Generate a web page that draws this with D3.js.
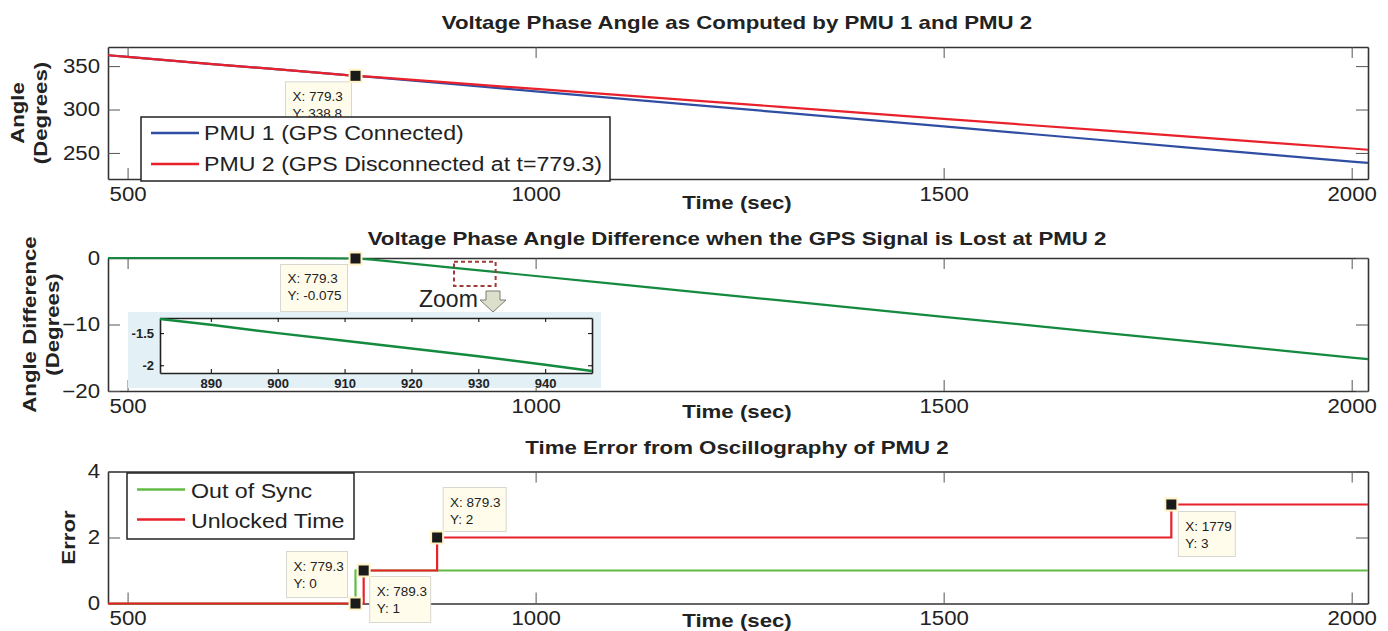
<!DOCTYPE html>
<html>
<head>
<meta charset="utf-8">
<script src="https://cdn.jsdelivr.net/npm/d3@7"></script>
<style>
  body { margin: 0; background: #fff; }
  svg { font-family: Arial, "Liberation Sans", sans-serif; }
</style>
</head>
<body>
<svg width="1388" height="631"></svg>
<script>
// ---- data ----
const tAngle = [476, 500, 600, 700, 779.3, 800, 900, 1000, 1100, 1200, 1300, 1400, 1500, 1600, 1700, 1800, 1900, 2000, 2020];
const pmu1Angle = [362.5, 360.6, 352.6, 345.1, 338.8, 337.2, 329.1, 321.0, 312.9, 304.8, 296.7, 288.6, 280.5, 272.4, 264.3, 256.2, 248.1, 240.1, 238.5];
const pmu2Angle = [362.5, 360.6, 352.6, 345.1, 338.8, 337.5, 330.6, 323.7, 316.8, 310.0, 303.1, 296.2, 289.3, 282.5, 275.6, 268.7, 261.8, 255.1, 253.7];

const tDiff = [476, 600, 700, 779.3, 800, 900, 1000, 1100, 1200, 1300, 1400, 1500, 1600, 1700, 1800, 1900, 2000, 2020];
const angleDiff = [0, 0, 0, -0.075, -0.25, -1.48, -2.71, -3.93, -5.16, -6.38, -7.61, -8.84, -10.06, -11.29, -12.51, -13.74, -14.97, -15.2];

const tInset = [882.4, 890, 900, 910, 920, 930, 940, 947];
const insetDiff = [-1.28, -1.37, -1.50, -1.62, -1.74, -1.86, -1.99, -2.09];

const tSync = [476, 779.3, 2020];
const outOfSync = [0, 1, 1];
const tUnlock = [476, 789.3, 879.3, 1779, 2020];
const unlockedTime = [0, 1, 2, 3, 3];

const xTicks = [500, 1000, 1500, 2000];
const angleTicks = [250, 300, 350];
const diffTicks = [-20, -10, 0];
const errorTicks = [0, 2, 4];
const insetXTicks = [890, 900, 910, 920, 930, 940];
const insetYTicks = [-2, -1.5];

const titles = [
  "Voltage Phase Angle as Computed by PMU 1 and PMU 2",
  "Voltage Phase Angle Difference when the GPS Signal is Lost at PMU 2",
  "Time Error from Oscillography of PMU 2"
];

// ---- drawing ----
const svg = d3.select("svg");
const L = 108, R = 1368;
const x = d3.scaleLinear().domain([476, 2020]).range([L, R]);

const blue = "#2f4ea3", red = "#e8212a", dgreen = "#138a3e", lgreen = "#62bb45";
const FF = "Arial, 'Liberation Sans', sans-serif";

// the original figure is stretched sideways, so widen text a bit
function stretch(sel, k) {
  sel.each(function() {
    const w = this.getComputedTextLength();
    d3.select(this).attr("textLength", w * k).attr("lengthAdjust", "spacingAndGlyphs");
  });
}

function panel(top, bottom, y, yTicks, title, titleY, ylabLines, ylabX, xlabY) {
  const g = svg.append("g");
  g.append("text").attr("x", 737).attr("y", titleY).attr("text-anchor", "middle")
    .attr("font-weight", "bold").attr("font-size", 19).attr("fill", "#222").text(title)
    .call(stretch, 1.17);

  const ax = (sel) => sel.selectAll("path.domain").attr("stroke", "#333").attr("stroke-width", 1.6);
  const lab = (s) => s.selectAll("text").attr("font-size", 19.5).attr("fill", "#222").attr("font-family", FF).call(stretch, 1.14);
  g.append("g").attr("transform", `translate(0,${bottom})`)
    .call(d3.axisBottom(x).tickValues(xTicks).tickSizeInner(-11).tickSizeOuter(0).tickPadding(8).tickFormat(d3.format("d")))
    .call(ax).call(lab);
  g.append("g").attr("transform", `translate(0,${top})`)
    .call(d3.axisTop(x).tickValues(xTicks).tickSizeInner(-11).tickSizeOuter(0).tickFormat(""))
    .call(ax);
  g.append("g").attr("transform", `translate(${L},0)`)
    .call(d3.axisLeft(y).tickValues(yTicks).tickSizeInner(-12).tickSizeOuter(0).tickPadding(8).tickFormat(d3.format("d")))
    .call(ax).call(lab);
  g.append("g").attr("transform", `translate(${R},0)`)
    .call(d3.axisRight(y).tickValues(yTicks).tickSizeInner(-12).tickSizeOuter(0).tickFormat(""))
    .call(ax);
  g.selectAll(".tick line").attr("stroke", "#555");

  g.append("text").attr("x", 737).attr("y", xlabY).attr("text-anchor", "middle")
    .attr("font-weight", "bold").attr("font-size", 19).attr("fill", "#222").text("Time (sec)")
    .call(stretch, 1.17);

  const cy = (top + bottom) / 2;
  ylabLines.forEach((t, i) => {
    g.append("text").attr("transform", `translate(${ylabX[i]},${cy}) rotate(-90)`)
      .attr("text-anchor", "middle").attr("font-weight", "bold").attr("font-size", 18.5)
      .attr("fill", "#222").text(t).call(stretch, 1.2);
  });
  return g;
}

function drawLine(g, xs, ys, y, color, width, curve) {
  const pts = xs.map((t, i) => [t, ys[i]]);
  g.append("path").datum(pts)
    .attr("fill", "none").attr("stroke", color).attr("stroke-width", width)
    .attr("d", d3.line().x(d => x(d[0])).y(d => y(d[1])).curve(curve || d3.curveLinear));
}

function dataTip(g, px, py, lines, off) {
  const bx = px + off.dx, by = py + off.dy;
  g.append("rect").attr("x", bx).attr("y", by).attr("width", off.w).attr("height", off.h)
    .attr("fill", "#fffcec").attr("stroke", "#d8d8d0");
  lines.forEach((t, i) => {
    g.append("text").attr("x", bx + 7).attr("y", by + 19 + i * 17)
      .attr("font-size", 13.5).attr("fill", "#222").text(t);
  });
  g.append("rect").attr("x", px - 6).attr("y", py - 6).attr("width", 12).attr("height", 12)
    .attr("fill", "#1a1a1a").attr("stroke", "#fff3c4").attr("stroke-width", 2);
}

// panel 1
const y1 = d3.scaleLinear().domain([220, 372]).range([179, 47]);
const g1 = panel(47, 179, y1, angleTicks, titles[0], 29, ["Angle", "(Degrees)"], [24, 47], 209);
drawLine(g1, tAngle, pmu1Angle, y1, blue, 2.2);
drawLine(g1, tAngle, pmu2Angle, y1, red, 2.2);
dataTip(g1, x(779.3), y1(338.8), ["X: 779.3", "Y: 338.8"], {dx: -70, dy: 6, w: 66, h: 46});
const leg1 = g1.append("g");
leg1.append("rect").attr("x", 141).attr("y", 117).attr("width", 469).attr("height", 64)
  .attr("fill", "#fff").attr("stroke", "#222").attr("stroke-width", 1.5);
[["PMU 1 (GPS Connected)", blue, 133], ["PMU 2 (GPS Disconnected at t=779.3)", red, 164]].forEach(d => {
  leg1.append("line").attr("x1", 151).attr("x2", 199).attr("y1", d[2]).attr("y2", d[2])
    .attr("stroke", d[1]).attr("stroke-width", 2.5);
  leg1.append("text").attr("x", 204).attr("y", d[2] + 7).attr("font-size", 20).attr("fill", "#222").text(d[0])
    .call(stretch, 1.157);
});

// panel 2
const y2 = d3.scaleLinear().domain([-20, 0]).range([391, 258]);
const g2 = panel(258, 391, y2, diffTicks, titles[1], 245, ["Angle Difference", "(Degrees)"], [36, 59], 418);
drawLine(g2, tDiff, angleDiff, y2, dgreen, 2.2);
dataTip(g2, x(779.3), y2(-0.075), ["X: 779.3", "Y: -0.075"], {dx: -75, dy: 6, w: 67, h: 47});
g2.append("rect").attr("x", x(900)).attr("y", y2(-0.55)).attr("width", x(951) - x(900)).attr("height", y2(-4.2) - y2(-0.55))
  .attr("fill", "none").attr("stroke", "#a03a35").attr("stroke-width", 2).attr("stroke-dasharray", "4,3");
g2.append("text").attr("x", 419).attr("y", 307).attr("font-size", 23).attr("fill", "#222").text("Zoom");
g2.append("path").attr("d", "M486,291 L500,291 L500,300 L506,300 L493,312 L480,300 L486,300 Z")
  .attr("fill", "#dcdfcc").attr("stroke", "#7b7f70").attr("stroke-width", 1);

// inset
const ig = g2.append("g");
ig.append("rect").attr("x", 128).attr("y", 312).attr("width", 473).attr("height", 76).attr("fill", "#e3f0f6");
const xi = d3.scaleLinear().domain([882.4, 947]).range([160, 592]);
const yi = d3.scaleLinear().domain([-2.12, -1.265]).range([373, 318]);
ig.append("rect").attr("x", 160).attr("y", 318).attr("width", 432).attr("height", 55).attr("fill", "#fff");
const iax = (sel) => sel.selectAll("path.domain").attr("stroke", "#222").attr("stroke-width", 1.6);
const bf = s => s.selectAll("text").attr("font-size", 13).attr("font-weight", "bold").attr("fill", "#222").attr("font-family", FF);
ig.append("g").attr("transform", "translate(0,373)")
  .call(d3.axisBottom(xi).tickValues(insetXTicks).tickSizeInner(-4).tickSizeOuter(0).tickPadding(6)).call(iax).call(bf);
ig.append("g").attr("transform", "translate(0,318)")
  .call(d3.axisTop(xi).tickValues(insetXTicks).tickSizeInner(-4).tickSizeOuter(0).tickFormat("")).call(iax);
ig.append("g").attr("transform", "translate(160,0)")
  .call(d3.axisLeft(yi).tickValues(insetYTicks).tickSizeInner(-4).tickSizeOuter(0).tickPadding(6).tickFormat(d => String(d))).call(iax).call(bf);
ig.append("g").attr("transform", "translate(592,0)")
  .call(d3.axisRight(yi).tickValues(insetYTicks).tickSizeInner(-4).tickSizeOuter(0).tickFormat("")).call(iax);
ig.append("path").datum(tInset.map((t, i) => [t, insetDiff[i]]))
  .attr("fill", "none").attr("stroke", dgreen).attr("stroke-width", 2.5)
  .attr("d", d3.line().x(d => xi(d[0])).y(d => yi(d[1])));

// panel 3
const y3 = d3.scaleLinear().domain([0, 4]).range([603.5, 471.5]);
const g3 = panel(471.5, 603.5, y3, errorTicks, titles[2], 454, ["Error"], [75], 627);
drawLine(g3, tSync, outOfSync, y3, lgreen, 2.2, d3.curveStepAfter);
drawLine(g3, tUnlock, unlockedTime, y3, red, 2.2, d3.curveStepAfter);
dataTip(g3, x(779.3), y3(0), ["X: 779.3", "Y: 0"], {dx: -69, dy: -52, w: 61, h: 46});
dataTip(g3, x(789.3), y3(1), ["X: 789.3", "Y: 1"], {dx: 6, dy: 6, w: 61, h: 46});
dataTip(g3, x(879.3), y3(2), ["X: 879.3", "Y: 2"], {dx: 6, dy: -50, w: 63, h: 44});
dataTip(g3, x(1779), y3(3), ["X: 1779", "Y: 3"], {dx: 7, dy: 7, w: 57, h: 45});
const leg3 = g3.append("g");
leg3.append("rect").attr("x", 127).attr("y", 473).attr("width", 227).attr("height", 66)
  .attr("fill", "#fff").attr("stroke", "#222").attr("stroke-width", 1.5);
[["Out of Sync", lgreen, 489.5], ["Unlocked Time", red, 519.5]].forEach(d => {
  leg3.append("line").attr("x1", 137).attr("x2", 185).attr("y1", d[2]).attr("y2", d[2])
    .attr("stroke", d[1]).attr("stroke-width", 2.5);
  leg3.append("text").attr("x", 191).attr("y", d[2] + 8).attr("font-size", 20).attr("fill", "#222").text(d[0])
    .call(stretch, 1.16);
});
</script>
</body>
</html>
